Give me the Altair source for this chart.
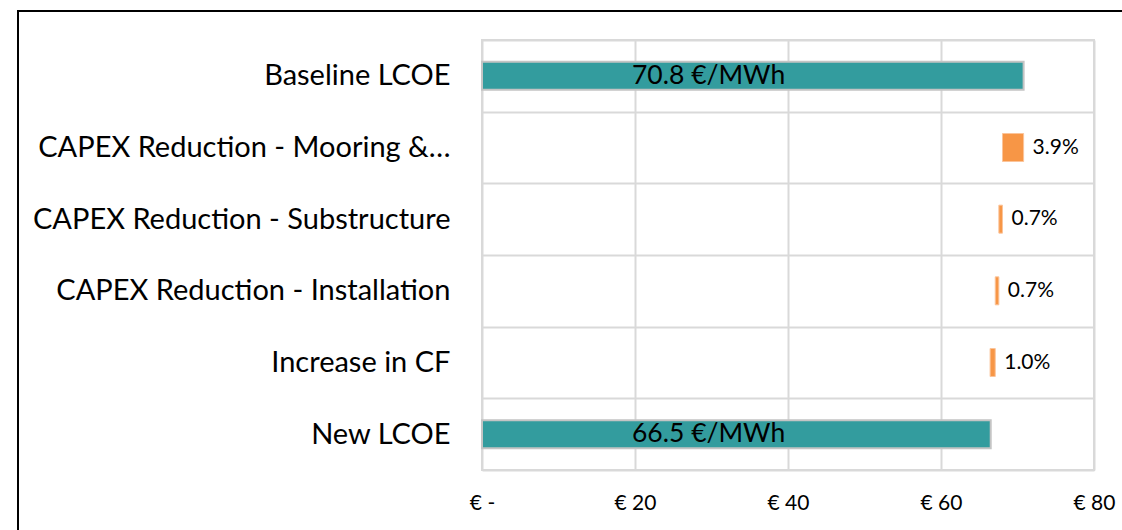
import altair as alt
import pandas as pd

# Waterfall of levelised cost of energy: baseline, reduction steps, new value
categories = [
    "Baseline LCOE",
    "CAPEX Reduction - Mooring &…",
    "CAPEX Reduction - Substructure",
    "CAPEX Reduction - Installation",
    "Increase in CF",
    "New LCOE",
]
baseline_lcoe = 70.8
new_lcoe = 66.5
reduction_pct = [3.9, 0.7, 0.7, 1.0]
tick_values = [0, 20, 40, 60, 80]

rows = [dict(cat=categories[0], start=0.0, end=baseline_lcoe, kind="total",
             label=f"{baseline_lcoe:.1f} €/MWh")]
running = baseline_lcoe
for cat, pct in zip(categories[1:5], reduction_pct):
    nxt = running * (1 - pct / 100)
    rows.append(dict(cat=cat, start=nxt, end=running, kind="step", label=f"{pct:.1f}%"))
    running = nxt
rows.append(dict(cat=categories[5], start=0.0, end=new_lcoe, kind="total",
                 label=f"{new_lcoe:.1f} €/MWh"))
df = pd.DataFrame(rows)

FONT = "Lato"
TEAL = "#339c9e"
ORANGE = "#f79646"
GRID = "#d9d9d9"

y_enc = alt.Y(
    "cat:N",
    sort=categories,
    scale=alt.Scale(paddingInner=0, paddingOuter=0),
    axis=alt.Axis(
        title=None, tickBand="extent", grid=True, ticks=False, domain=False,
        labelFontSize=29, labelPadding=32, labelColor="black", labelFont=FONT,
        labelLimit=0, gridColor=GRID, gridWidth=2,
    ),
)
x_enc = alt.X(
    "start:Q",
    scale=alt.Scale(domain=[0, 80], nice=False, zero=True),
    axis=alt.Axis(
        title=None, values=tick_values, ticks=False, domain=False, grid=True,
        gridColor=GRID, gridWidth=2, labelFontSize=21, labelFont=FONT,
        labelColor="black", labelPadding=22, labelFlush=False,
        labelExpr="datum.value == 0 ? '€ -' : '€ ' + datum.value",
    ),
)

base = alt.Chart(df)

totals = base.transform_filter("datum.kind == 'total'").mark_bar(
    size=28, color=TEAL, stroke="#c4c4c4", strokeWidth=2
).encode(y=y_enc, x=x_enc, x2="end:Q")

steps = base.transform_filter("datum.kind == 'step'").mark_bar(
    size=28, color=ORANGE, stroke="#fbc49a", strokeWidth=1
).encode(y=y_enc, x=x_enc, x2="end:Q")

total_labels = base.transform_filter("datum.kind == 'total'").mark_text(
    align="left", baseline="middle", dx=150, fontSize=26.5, font=FONT, color="black"
).encode(y=alt.Y("cat:N", sort=categories), x="start:Q", text="label:N")

step_labels = base.transform_filter("datum.kind == 'step'").mark_text(
    align="left", baseline="middle", dx=9, fontSize=21, font=FONT, color="black"
).encode(y=alt.Y("cat:N", sort=categories), x="end:Q", text="label:N")

# Outer black frame of the figure
frame = base.mark_rect(fill=None, stroke="black", strokeWidth=2, clip=False).encode(
    x=alt.value(-464), x2=alt.value(660), y=alt.value(-29), y2=alt.value(560)
).transform_filter("datum.cat == 'New LCOE'")

chart = alt.layer(frame, totals, steps, total_labels, step_labels).properties(
    width=612, height=430,
    autosize=alt.AutoSizeParams(type="none"),
    padding={"left": 482, "top": 40, "right": 28, "bottom": 60},
    background="white",
).configure_view(stroke=GRID, strokeWidth=2)

chart.save("out.html", embed_options={"renderer": "svg", "actions": False})
